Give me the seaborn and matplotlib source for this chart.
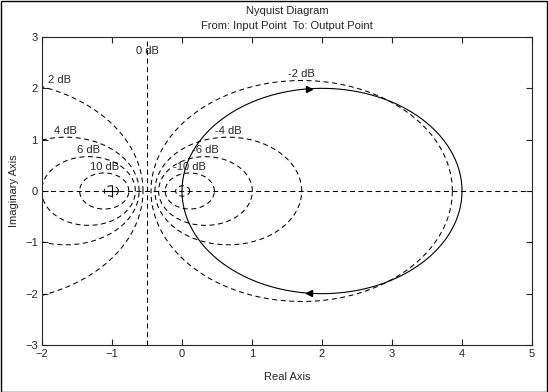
import numpy as np
import pandas as pd
import matplotlib
matplotlib.use("Agg")
import matplotlib.pyplot as plt
from matplotlib.patches import Rectangle
import seaborn as sns

# Open loop L(s) = K / (s + p)  -> Nyquist curve
K = 4.0
p = 1.0

# M-circle levels (dB) of the closed loop grid
m_db = [-20, -10, -6, -4, -2, 0, 2, 4, 6, 10, 20]
labelled_db = [-10, -6, -4, -2, 0, 2, 4, 6, 10]

# frequencies where the direction arrows sit
arrow_w = [-1.1, 1.1]

sns.set_style("ticks")
plt.rcParams['font.family'] = ['Liberation Sans', 'DejaVu Sans']
plt.rcParams['font.size'] = 8
plt.rcParams['xtick.direction'] = 'in'
plt.rcParams['ytick.direction'] = 'in'
plt.rcParams['xtick.major.size'] = 4
plt.rcParams['ytick.major.size'] = 4

XMIN, XMAX, YMIN, YMAX = -2, 5, -3, 3
DASH = (0, (4.8, 3.4))

fig = plt.figure(figsize=(5.48, 3.92), dpi=100)
ax = fig.add_axes([42 / 548, 1 - 345 / 392, 490 / 548, 308 / 392])

# M circles
theta = np.linspace(0, 2 * np.pi, 400)
for db in m_db:
    if db == 0:
        ax.axvline(-0.5, color='black', lw=0.75, linestyle=DASH)
        continue
    M = 10 ** (db / 20)
    c = -M ** 2 / (M ** 2 - 1)
    r = abs(M / (M ** 2 - 1))
    circ = pd.DataFrame({'x': c + r * np.cos(theta), 'y': r * np.sin(theta)})
    sns.lineplot(data=circ, x='x', y='y', sort=False, estimator=None, ax=ax,
                 color='black', lw=0.75, linestyle=DASH)

# real axis
ax.axhline(0, color='black', lw=0.75, linestyle=DASH)

# labels at the top of each circle
for db in labelled_db:
    if db == 0:
        lx, ly = -0.5, 2.6
    else:
        M = 10 ** (db / 20)
        c = -M ** 2 / (M ** 2 - 1)
        r = abs(M / (M ** 2 - 1))
        lx = c
        ly = r
        if lx < XMIN + 0.25:
            lx = XMIN + 0.25
            ly = np.sqrt(r ** 2 - (XMIN - c) ** 2)
    ax.annotate(f"{db} dB", (lx, ly), xytext=(0, 1), textcoords='offset points',
                ha='center', va='bottom', fontsize=8)

# Nyquist curve
w = np.concatenate([-np.logspace(3, -3, 600), np.logspace(-3, 3, 600)])
L = K / (1j * w + p)
nyq = pd.DataFrame({'re': L.real, 'im': L.imag})
sns.lineplot(data=nyq, x='re', y='im', sort=False, estimator=None, ax=ax,
             color='black', lw=0.8)

# direction arrows
for wa in arrow_w:
    La = K / (1j * wa + p)
    marker = '>' if La.imag > 0 else '<'
    ax.plot(La.real, La.imag, marker=marker, color='black', markersize=4)

# critical point
ax.plot(-1, 0, marker='+', color='black', markersize=8, mew=0.8)

ax.set_xlim(XMIN, XMAX)
ax.set_ylim(YMIN, YMAX)
ax.set_xticks(np.arange(XMIN, XMAX + 1, 1))
ax.set_yticks(np.arange(YMIN, YMAX + 1, 1))
ax.tick_params(top=True, right=True, width=0.8, pad=3)
for s in ax.spines.values():
    s.set_linewidth(0.8)
ax.set_xlabel("Real Axis", labelpad=9)
ax.set_ylabel("Imaginary Axis")
ax.yaxis.set_label_coords(-23 / 490, 0.5)
ax.set_title("Nyquist Diagram\nFrom: Input Point  To: Output Point",
             fontsize=8, linespacing=1.6, pad=6)

fig.patches.append(Rectangle((0.001, 0.001), 0.997, 0.996, transform=fig.transFigure,
                             fill=False, edgecolor='black', lw=1))

fig.savefig("out.png", dpi=100)
